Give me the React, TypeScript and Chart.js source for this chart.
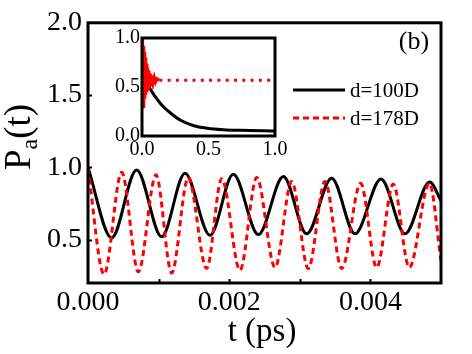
import React, { useEffect, useRef } from 'react';
import { Chart, registerables } from 'chart.js';
Chart.register(...registerables);

// ---------- data ----------
const blackT = [0, 0.000335, 0.000689, 0.001043, 0.001374, 0.001728, 0.002058, 0.002413, 0.002767, 0.003097, 0.003451, 0.003782, 0.00415, 0.00449, 0.00484, 0.005];
const blackV = [1.0, 0.512, 0.982, 0.52, 0.959, 0.53, 0.952, 0.535, 0.936, 0.54, 0.925, 0.54, 0.92, 0.54, 0.898, 0.77];

const redT = [0, 0.000227, 0.000477, 0.000713, 0.000963, 0.001185, 0.00142, 0.00168, 0.001894, 0.002153, 0.00239, 0.002649, 0.002885, 0.00312, 0.003357, 0.003593, 0.003862, 0.004089, 0.004324, 0.004551, 0.004835, 0.005];
const redV = [0.99, 0.26, 0.966, 0.277, 0.948, 0.27, 0.929, 0.3, 0.922, 0.289, 0.93, 0.307, 0.902, 0.3, 0.902, 0.3, 0.89, 0.307, 0.884, 0.307, 0.89, 0.355];

const insetBlackT = [0, 0.047, 0.075, 0.14, 0.21, 0.29, 0.39, 0.49, 0.61, 0.74, 1.0];
const insetBlackV = [0.6, 0.51, 0.45, 0.33, 0.24, 0.16, 0.105, 0.08, 0.065, 0.058, 0.052];

const insetRedT = [0, 0.003, 0.006, 0.009, 0.012, 0.015, 0.018, 0.021, 0.025, 0.029, 0.033, 0.037, 0.041, 0.046, 0.051, 0.056, 0.062, 0.068, 0.075, 0.083, 0.092, 0.102, 0.113, 0.13, 1.0];
const insetRedV = [1.0, 0.28, 0.97, 0.3, 0.92, 0.34, 0.86, 0.38, 0.8, 0.42, 0.74, 0.45, 0.7, 0.48, 0.67, 0.5, 0.64, 0.52, 0.62, 0.54, 0.6, 0.55, 0.585, 0.57, 0.57];

const mainXTicks = [0, 0.001, 0.002, 0.003, 0.004, 0.005];
const mainXLabels = ['0.000', '', '0.002', '', '0.004', ''];
const mainYTicks = [0.5, 1.0, 1.5, 2.0];
const mainYLabels = ['0.5', '1.0', '1.5', '2.0'];
const insetTicks = [0, 0.5, 1.0];
const insetLabels = ['0.0', '0.5', '1.0'];
const seriesNames = ['d=100D', 'd=178D'];
const panelLabel = '(b)';
const xTitleMain = 't';
const xTitleUnit = '(ps)';
const yTitleMain = 'P';
const yTitleSub = 'a';
const yTitleRest = '(t)';

const FONT = "'Liberation Serif', 'Times New Roman', serif";
const RED = '#ff0000';

const toPts = (xs: number[], ys: number[]) => xs.map((x, i) => ({ x, y: ys[i] }));
const labelFor = (ticks: number[], labels: string[]) => (v: any) => {
  const i = ticks.findIndex((t) => Math.abs(t - Number(v)) < 1e-9);
  return i >= 0 ? labels[i] : '';
};

const framePlugin = (tickLen: number, drawTicks: boolean) => ({
  id: 'frame',
  afterDatasetsDraw(chart: any) {
    const { ctx, chartArea: a, scales } = chart;
    ctx.save();
    ctx.strokeStyle = '#000';
    ctx.lineWidth = 3;
    ctx.strokeRect(a.left, a.top, a.right - a.left, a.bottom - a.top);
    if (drawTicks) {
      ctx.lineWidth = 2;
      ctx.beginPath();
      scales.x.ticks.forEach((t: any) => {
        if (t.value <= scales.x.min || t.value >= scales.x.max) return;
        const px = Math.round(scales.x.getPixelForValue(t.value)) + 0.5;
        ctx.moveTo(px, a.bottom);
        ctx.lineTo(px, a.bottom - tickLen);
      });
      scales.y.ticks.forEach((t: any) => {
        if (t.value <= scales.y.min || t.value >= scales.y.max) return;
        const py = Math.round(scales.y.getPixelForValue(t.value)) + 0.5;
        ctx.moveTo(a.left, py);
        ctx.lineTo(a.left + tickLen, py);
      });
      ctx.stroke();
    }
    ctx.restore();
  },
});

const textPlugin = {
  id: 'texts',
  afterDraw(chart: any) {
    const { ctx } = chart;
    ctx.save();
    ctx.fillStyle = '#000';
    ctx.textBaseline = 'alphabetic';
    // x title
    ctx.font = `33px ${FONT}`;
    const wt = ctx.measureText(xTitleMain + ' ').width;
    const wu = ctx.measureText(xTitleUnit).width;
    const x0 = 262 - (wt + wu) / 2;
    ctx.textAlign = 'left';
    ctx.fillText(xTitleMain + ' ', x0, 341);
    ctx.fillText(xTitleUnit, x0 + wt, 341);
    // y title (rotated)
    ctx.save();
    ctx.translate(30, 137);
    ctx.rotate(-Math.PI / 2);
    ctx.font = `37px ${FONT}`;
    const wP = ctx.measureText(yTitleMain).width;
    const wR = ctx.measureText(yTitleRest).width;
    ctx.font = `24px ${FONT}`;
    const wA = ctx.measureText(yTitleSub).width;
    const start = -(wP + wA + wR) / 2;
    ctx.font = `37px ${FONT}`;
    ctx.fillText(yTitleMain, start, 0);
    ctx.fillText(yTitleRest, start + wP + wA, 0);
    ctx.font = `24px ${FONT}`;
    ctx.fillText(yTitleSub, start + wP, 7);
    ctx.restore();
    // panel label
    ctx.font = `26px ${FONT}`;
    ctx.textAlign = 'center';
    ctx.fillText(panelLabel, 414, 49);
    // legend
    const ds = chart.data.datasets;
    const rows = [90, 118];
    ctx.textAlign = 'left';
    ctx.font = `21px ${FONT}`;
    rows.forEach((y, i) => {
      const d = ds[i];
      ctx.save();
      ctx.strokeStyle = d.borderColor;
      ctx.lineWidth = 3;
      ctx.setLineDash(d.borderDash || []);
      ctx.beginPath();
      ctx.moveTo(293, y);
      ctx.lineTo(345, y);
      ctx.stroke();
      ctx.restore();
      ctx.fillText(d.label, 350, y + 7);
    });
    ctx.restore();
  },
};

export default function App() {
  const mainRef = useRef<HTMLCanvasElement>(null);
  const insetRef = useRef<HTMLCanvasElement>(null);

  useEffect(() => {
    document.body.style.margin = '0';
    const main = new Chart(mainRef.current!, {
      type: 'line',
      data: {
        datasets: [
          {
            label: seriesNames[0],
            data: toPts(blackT, blackV),
            borderColor: '#000',
            borderWidth: 3,
            pointRadius: 0,
            cubicInterpolationMode: 'monotone',
            fill: false,
            order: 2,
          },
          {
            label: seriesNames[1],
            data: toPts(redT, redV),
            borderColor: RED,
            borderWidth: 3,
            borderDash: [6, 4],
            pointRadius: 0,
            cubicInterpolationMode: 'monotone',
            fill: false,
            order: 1,
          },
        ],
      },
      options: {
        animation: false,
        responsive: false,
        maintainAspectRatio: false,
        devicePixelRatio: 1,
        events: [],
        layout: { padding: { left: 0, top: 18, right: 31, bottom: 0 } },
        plugins: { legend: { display: false }, tooltip: { enabled: false } },
        scales: {
          x: {
            type: 'linear',
            min: 0,
            max: 0.005,
            grid: { display: false, drawTicks: false },
            border: { display: false },
            afterBuildTicks: (s: any) => {
              s.ticks = mainXTicks.map((v) => ({ value: v }));
            },
            afterFit: (s: any) => {
              s.height = 71;
            },
            ticks: {
              autoSkip: false,
              maxRotation: 0,
              padding: 3,
              color: '#000',
              font: { family: FONT, size: 28 },
              callback: labelFor(mainXTicks, mainXLabels),
            },
          },
          y: {
            type: 'linear',
            min: 0.2,
            max: 2.0,
            grid: { display: false, drawTicks: false },
            border: { display: false },
            afterBuildTicks: (s: any) => {
              s.ticks = mainYTicks.map((v) => ({ value: v }));
            },
            afterFit: (s: any) => {
              s.width = 88;
            },
            ticks: {
              padding: 6,
              color: '#000',
              font: { family: FONT, size: 28 },
              callback: labelFor(mainYTicks, mainYLabels),
            },
          },
        },
      } as any,
      plugins: [framePlugin(4, true), textPlugin],
    });

    const inset = new Chart(insetRef.current!, {
      type: 'line',
      data: {
        datasets: [
          {
            label: 'inset-red',
            data: toPts(insetRedT, insetRedV),
            borderColor: RED,
            borderWidth: 3,
            pointRadius: 0,
            tension: 0,
            fill: false,
            segment: {
              borderDash: (c: any) => (c.p0.parsed.x >= 0.12 ? [3, 5.3] : undefined),
            },
            order: 1,
          },
          {
            label: 'inset-black',
            data: toPts(insetBlackT, insetBlackV),
            borderColor: '#000',
            borderWidth: 3,
            pointRadius: 0,
            cubicInterpolationMode: 'monotone',
            fill: false,
            order: 2,
          },
        ],
      },
      options: {
        animation: false,
        responsive: false,
        maintainAspectRatio: false,
        devicePixelRatio: 1,
        events: [],
        layout: { padding: { left: 0, top: 12, right: 15, bottom: 0 } },
        plugins: { legend: { display: false }, tooltip: { enabled: false } },
        scales: {
          x: {
            type: 'linear',
            min: 0,
            max: 1,
            grid: { display: false, drawTicks: false },
            border: { display: false },
            afterBuildTicks: (s: any) => {
              s.ticks = insetTicks.map((v) => ({ value: v }));
            },
            afterFit: (s: any) => {
              s.height = 28;
            },
            ticks: {
              autoSkip: false,
              maxRotation: 0,
              padding: 2,
              color: '#000',
              font: { family: FONT, size: 20 },
              callback: labelFor(insetTicks, insetLabels),
            },
          },
          y: {
            type: 'linear',
            min: 0,
            max: 1,
            grid: { display: false, drawTicks: false },
            border: { display: false },
            afterBuildTicks: (s: any) => {
              s.ticks = insetTicks.map((v) => ({ value: v }));
            },
            afterFit: (s: any) => {
              s.width = 52;
            },
            ticks: {
              padding: 2,
              color: '#000',
              font: { family: FONT, size: 20 },
              callback: labelFor(insetTicks, insetLabels),
            },
          },
        },
      } as any,
      plugins: [framePlugin(0, false)],
    });

    return () => {
      main.destroy();
      inset.destroy();
    };
  }, []);

  return (
    <div style={{ position: 'relative', width: 472, height: 354, background: '#fff' }}>
      <canvas ref={mainRef} width={472} height={354} style={{ position: 'absolute', left: 0, top: 0 }} />
      <canvas ref={insetRef} width={200} height={140} style={{ position: 'absolute', left: 90, top: 24 }} />
    </div>
  );
}
